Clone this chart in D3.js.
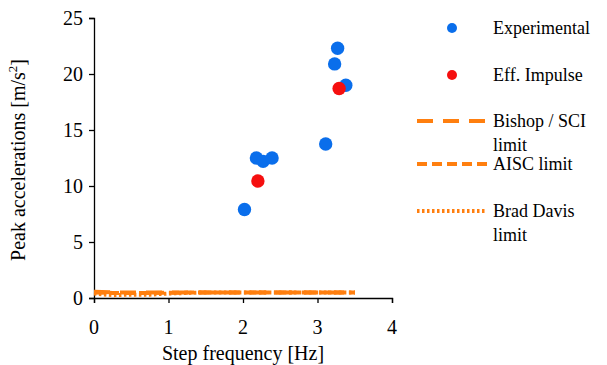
<!DOCTYPE html>
<html><head><meta charset="utf-8">
<script src="https://cdn.jsdelivr.net/npm/d3@7"></script>
</head><body style="margin:0;background:#fff">
<svg id="c" width="607" height="365" style="display:block"></svg>
<script>
// Data
const expFreq = [2.02, 2.18, 2.27, 2.39, 3.11, 3.23, 3.27, 3.38];
const expAcc  = [7.9, 12.5, 12.2, 12.5, 13.75, 20.9, 22.3, 19.0];
const impFreq = [2.20, 3.29];
const impAcc  = [10.45, 18.7];
const limitFreq   = [0, 0.25, 0.5, 0.75, 1.0, 1.25, 1.5, 1.75, 2.0, 2.25, 2.5, 2.75, 3.0, 3.25, 3.5];
const bishopLimit = [0.55, 0.5, 0.5, 0.5, 0.5, 0.5, 0.5, 0.5, 0.5, 0.5, 0.5, 0.5, 0.5, 0.5, 0.5];
const aiscLimit   = [0.5, 0.45, 0.45, 0.45, 0.47, 0.48, 0.49, 0.5, 0.5, 0.5, 0.5, 0.5, 0.5, 0.5, 0.5];
const bradLimit   = [0.4, 0.25, 0.3, 0.3, 0.4, 0.45, 0.5, 0.5, 0.5, 0.5, 0.5, 0.5, 0.5, 0.5, 0.5];
const xTicks = [0, 1, 2, 3, 4];
const yTicks = [0, 5, 10, 15, 20, 25];
const legendLabels = [["Experimental"], ["Eff. Impulse"], ["Bishop / SCI", "limit"], ["AISC limit"], ["Brad Davis", "limit"]];

const svg = d3.select("#c");
const x = d3.scaleLinear().domain([0, 4]).range([94, 392]);
const y = d3.scaleLinear().domain([0, 25]).range([298, 18]);
const blue = "#0A6EEB", red = "#F50F0F", orange = "#FF7F0F";

function txt(sel, size) {
  return sel.attr("font-family", "Liberation Serif").attr("font-size", size).attr("fill", "#000");
}

// axes: lines via d3 axis, labels drawn as plain text
const xAxis = svg.append("g").attr("transform", "translate(0,298)")
  .call(d3.axisBottom(x).tickValues(xTicks).tickSize(5).tickFormat(""));
const yAxis = svg.append("g").attr("transform", "translate(94,0)")
  .call(d3.axisLeft(y).tickValues(yTicks).tickSize(5).tickFormat(""));
[xAxis, yAxis].forEach(g => {
  g.select(".domain").attr("stroke", "#000").attr("stroke-width", 1.3);
  g.selectAll(".tick line").attr("stroke", "#000").attr("stroke-width", 1.3);
  g.selectAll(".tick text").remove();
});
xTicks.forEach(v => {
  txt(svg.append("text"), 20).attr("x", x(v)).attr("y", 334).attr("text-anchor", "middle").text(v);
});
yTicks.forEach(v => {
  txt(svg.append("text"), 20).attr("x", 83).attr("y", y(v) + 7).attr("text-anchor", "end").text(v);
});

// limit lines
const line = d3.line().x((d, i) => x(limitFreq[i])).y(d => y(d));
const styles = [
  {data: bishopLimit, dash: "16,10"},
  {data: aiscLimit, dash: "10,5"},
  {data: bradLimit, dash: "2.5,2.5"}
];
styles.forEach(s => {
  svg.append("path").attr("d", line(s.data)).attr("fill", "none")
    .attr("stroke", orange).attr("stroke-width", 4).attr("stroke-dasharray", s.dash);
});

// points
svg.selectAll(".exp").data(expFreq).enter().append("circle")
  .attr("cx", d => x(d)).attr("cy", (d, i) => y(expAcc[i])).attr("r", 6.7).attr("fill", blue);
svg.selectAll(".imp").data(impFreq).enter().append("circle")
  .attr("cx", d => x(d)).attr("cy", (d, i) => y(impAcc[i])).attr("r", 6.7).attr("fill", red);

// axis titles
txt(svg.append("text"), 20).attr("x", 243).attr("y", 360).attr("text-anchor", "middle")
  .text("Step frequency [Hz]");
const yt = txt(svg.append("text"), 20).attr("transform", "translate(25,160) rotate(-90)")
  .attr("text-anchor", "middle");
yt.append("tspan").text("Peak accelerations [m/s");
yt.append("tspan").attr("font-size", 13).attr("dy", -8).text("2");
yt.append("tspan").attr("dy", 8).text("]");

// legend
const legY = [28, 75, 121, 164, 211];
const lg = svg.append("g");
lg.append("circle").attr("cx", 452).attr("cy", legY[0]).attr("r", 5).attr("fill", blue);
lg.append("circle").attr("cx", 452).attr("cy", legY[1]).attr("r", 5).attr("fill", red);
[2, 3, 4].forEach((k, j) => {
  lg.append("line").attr("x1", 417).attr("x2", 487).attr("y1", legY[k]).attr("y2", legY[k])
    .attr("stroke", orange).attr("stroke-width", 4).attr("stroke-dasharray", styles[j].dash);
});
legendLabels.forEach((lines, i) => {
  lines.forEach((t, k) => {
    txt(lg.append("text"), 18).attr("x", 493).attr("y", legY[i] + 6 + k * 24).text(t);
  });
});
</script></body></html>
